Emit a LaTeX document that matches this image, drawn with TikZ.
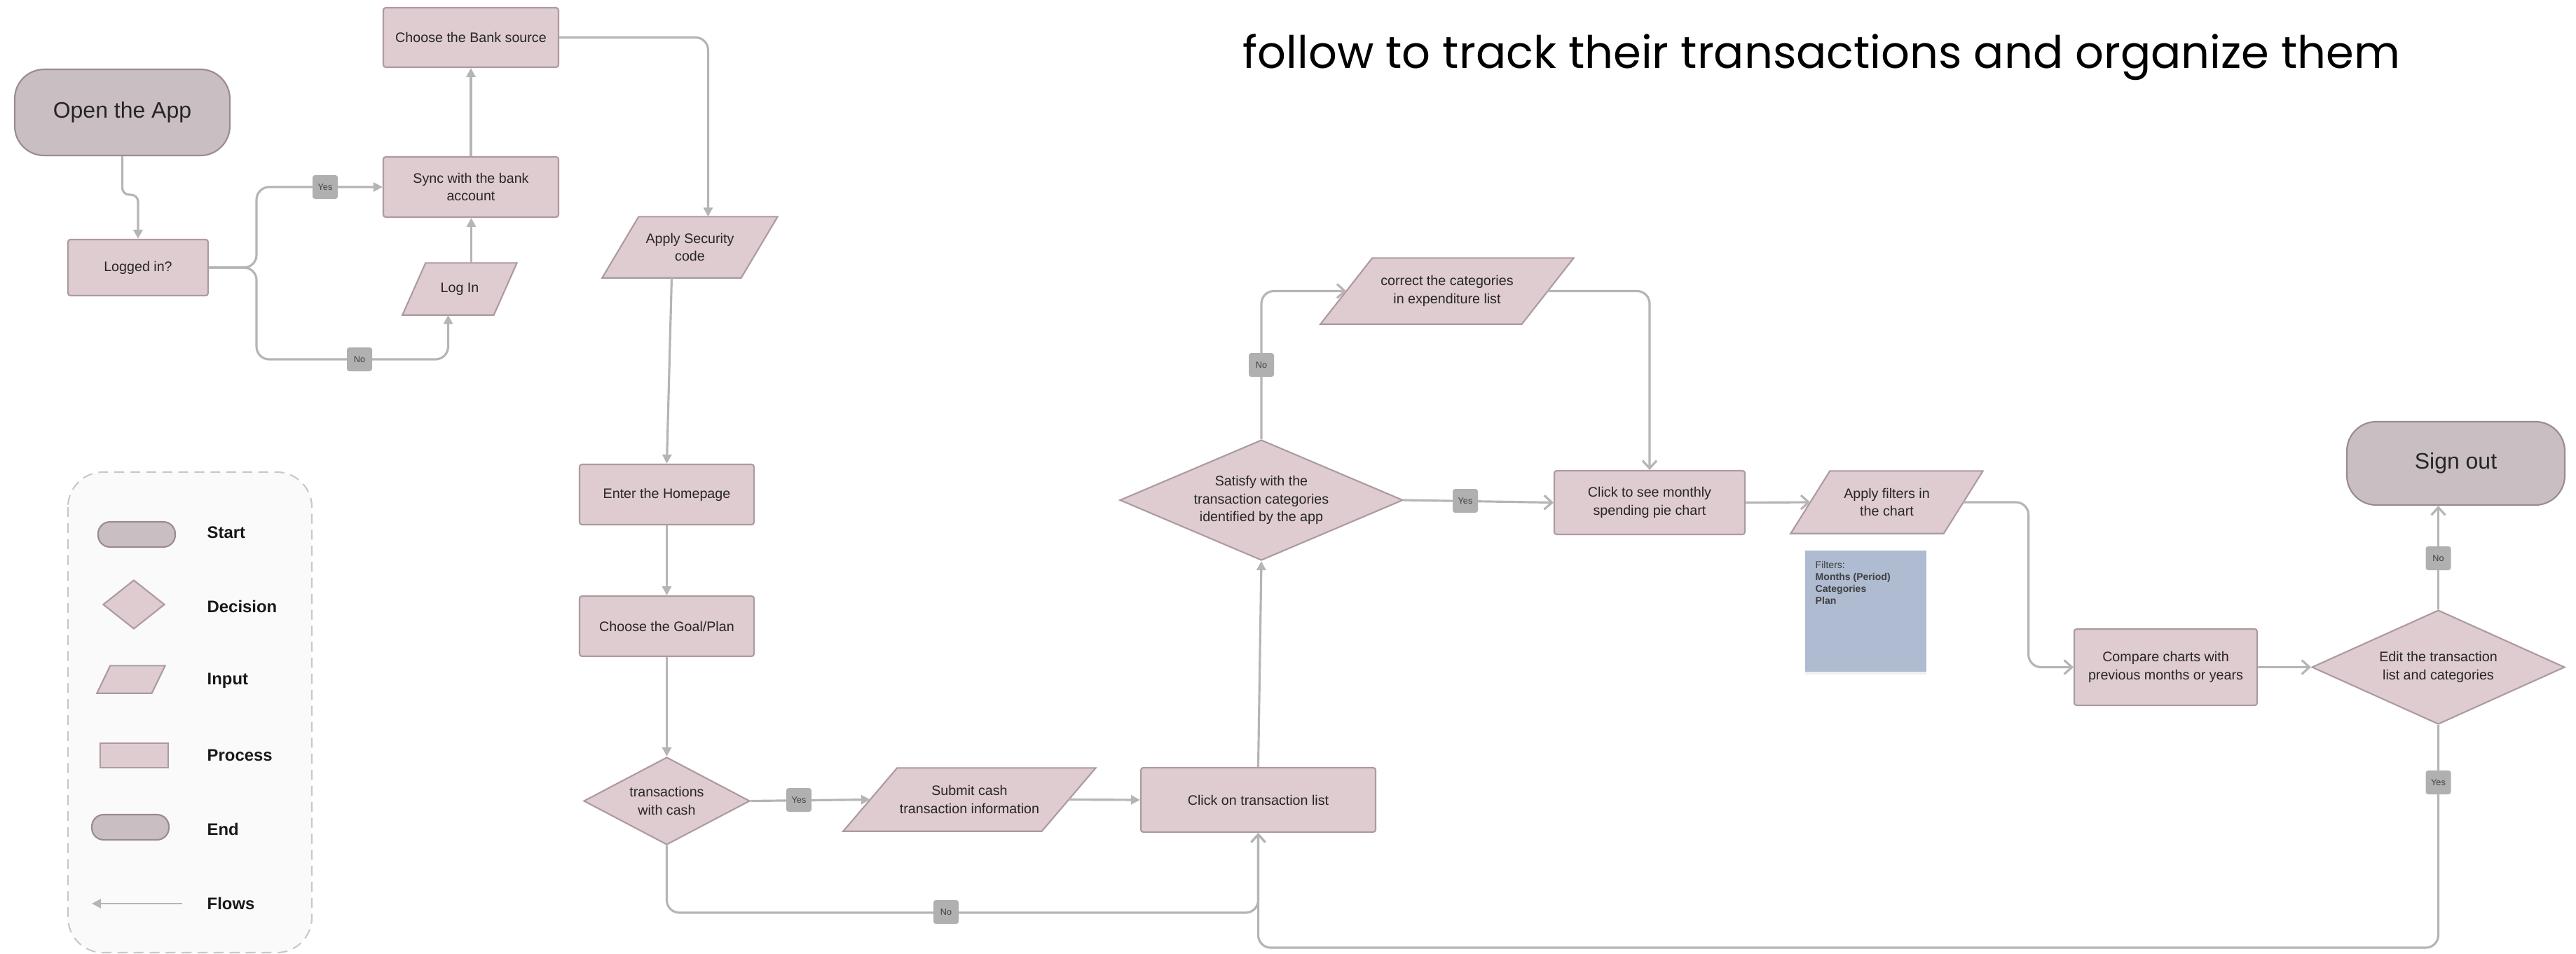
\documentclass[tikz,border=0pt]{standalone}
\usepackage{fontspec}
\setmainfont{Liberation Sans}
\newfontfamily\titlefont{Poppins}
\usetikzlibrary{shapes.geometric,arrows.meta,shadows,backgrounds}

\definecolor{boxfill}{HTML}{DFCCD1}
\definecolor{boxline}{HTML}{AD9AA1}
\definecolor{termfill}{HTML}{C9BEC1}
\definecolor{termline}{HTML}{9A8B90}
\definecolor{flowgray}{HTML}{B5B5B5}
\definecolor{tagfill}{HTML}{B0B0B0}
\definecolor{notefill}{HTML}{AEBBD0}
\definecolor{legendfill}{HTML}{FAFAFA}
\definecolor{legendline}{HTML}{C8C8C8}

\newcommand{\boxfont}{\fontsize{5.6}{7.2}\selectfont}
\newcommand{\termfont}{\fontsize{9.1}{11}\selectfont}
\newcommand{\tagfont}{\fontsize{3.6}{4}\selectfont}
\newcommand{\keyfont}{\fontsize{6.8}{8}\selectfont\bfseries}

% parallelogram behind an input node: name, half of the slant
\newcommand{\slantbox}[2]{%
  \draw[boxline, fill=boxfill, line width=0.6pt] ([xshift=-#2]#1.south west) -- ([xshift=-#2]#1.south east)
    -- ([xshift=#2]#1.north east) -- ([xshift=#2]#1.north west) -- cycle;
  \coordinate (#1 top) at ([xshift=#2]#1.north);
  \coordinate (#1 bottom) at ([xshift=-#2]#1.south);}

\tikzset{
  process/.style={rectangle, draw=boxline, fill=boxfill, line width=0.6pt, rounded corners=1pt,
    align=center, font=\boxfont, text=black!85, inner sep=0pt},
  terminal/.style={process, fill=termfill, draw=termline, rounded corners=0.42cm, font=\termfont},
  inputbox/.style={rectangle, align=center, font=\boxfont, text=black!85, inner sep=0pt},
  decision/.style={diamond, draw=boxline, fill=boxfill, line width=0.6pt,
    align=center, font=\boxfont, text=black!85, inner sep=0pt},
  flow/.style={draw=flowgray, line width=0.9pt, rounded corners=0.18cm, -{Triangle[length=1.3mm,width=1.3mm]}},
  flowopen/.style={flow, -{Straight Barb[length=1.1mm,width=2mm]}},
  answer/.style={fill=tagfill, rounded corners=1pt, minimum width=0.36cm, minimum height=0.34cm,
    inner sep=0pt, font=\tagfont, text=black!75},
  keylabel/.style={anchor=west, font=\keyfont, text=black!90, inner sep=0pt},
}

\begin{document}
\begin{tikzpicture}
\useasboundingbox (0,0) rectangle (36.76,-13.62);

% title
\node[anchor=base west, font=\titlefont\fontsize{18.2}{21}\selectfont, inner sep=0pt] (title) at (17.73,-0.97)
  {follow to track their transactions and organize them};

% legend
\begin{pgfonlayer}{background}
\draw[legendline, fill=legendfill, line width=0.6pt, rounded corners=0.5cm, dash pattern=on 4pt off 2.5pt]
  (0.97,-6.74) rectangle (4.45,-13.60);
\end{pgfonlayer}
\node[terminal, minimum width=1.10cm, minimum height=0.36cm, rounded corners=0.17cm] (keystart) at (1.95,-7.63) {};
\node[decision, aspect=1.26, minimum width=0.88cm, minimum height=0.70cm] (keydecision) at (1.91,-8.63) {};
\node[inputbox, minimum width=0.77cm, minimum height=0.38cm] (keyinput) at (1.87,-9.70) {};
\node[process, minimum width=0.97cm, minimum height=0.35cm, rounded corners=0pt] (keyprocess) at (1.915,-10.785) {};
\node[terminal, minimum width=1.10cm, minimum height=0.36cm, rounded corners=0.17cm] (keyend) at (1.86,-11.81) {};
\coordinate (keyflowa) at (2.60,-12.90);
\coordinate (keyflowb) at (1.31,-12.90);
\draw[flow, line width=0.6pt] (keyflowa) -- (keyflowb);
\node[keylabel] (lstart) at (2.95,-7.60) {Start};
\node[keylabel] (ldecision) at (2.95,-8.66) {Decision};
\node[keylabel] (linput) at (2.95,-9.72) {Input};
\node[keylabel] (lprocess) at (2.95,-10.78) {Process};
\node[keylabel] (lend) at (2.95,-11.84) {End};
\node[keylabel] (lflows) at (2.95,-12.90) {Flows};

% login part
\node[terminal, minimum width=3.07cm, minimum height=1.23cm] (openapp) at (1.745,-1.605) {Open the App};
\node[process, minimum width=2.0cm, minimum height=0.8cm] (logged) at (1.97,-3.82) {Logged in?};
\node[process, minimum width=2.5cm, minimum height=0.85cm] (bank) at (6.72,-0.535) {Choose the Bank source};
\node[process, minimum width=2.5cm, minimum height=0.86cm] (sync) at (6.72,-2.67) {Sync with the bank\\account};
\node[inputbox, minimum width=1.29cm, minimum height=0.73cm] (login) at (6.56,-4.125) {Log In};
\node[inputbox, minimum width=1.97cm, minimum height=0.86cm] (security) at (9.845,-3.53) {Apply Security\\code};

% main column
\node[process, minimum width=2.49cm, minimum height=0.86cm] (home) at (9.515,-7.06) {Enter the Homepage};
\node[process, minimum width=2.49cm, minimum height=0.86cm] (goal) at (9.515,-8.94) {Choose the Goal/Plan};
\node[decision, aspect=1.9, minimum width=2.37cm, minimum height=1.25cm] (cash) at (9.515,-11.435) {transactions\\with cash};
\node[inputbox, minimum width=2.82cm, minimum height=0.89cm] (submit) at (13.835,-11.415) {Submit cash\\transaction information};
\node[process, minimum width=3.35cm, minimum height=0.92cm] (txlist) at (17.955,-11.42) {Click on transaction list};
\node[decision, aspect=2.35, minimum width=4.04cm, minimum height=1.72cm] (satisfy) at (18.0,-7.14) {Satisfy with the\\transaction categories\\identified by the app};
\node[inputbox, minimum width=2.86cm, minimum height=0.93cm] (correct) at (20.65,-4.155) {correct the categories\\in expenditure list};
\node[process, minimum width=2.72cm, minimum height=0.91cm] (pie) at (23.54,-7.175) {Click to see monthly\\spending pie chart};
\node[inputbox, minimum width=2.17cm, minimum height=0.88cm] (filters) at (26.925,-7.17) {Apply filters in\\the chart};
\node[fill=notefill, minimum size=1.73cm, inner sep=0pt,
  drop shadow={opacity=0.12, shadow xshift=0pt, shadow yshift=-1.2pt}] (note) at (26.625,-8.725) {};
\node[anchor=north west, align=left, inner sep=0pt, font=\fontsize{4}{4.8}\selectfont, text=black!75] (notetext) at (25.90,-8.01)
  {Filters:\\\textbf{Months (Period)}\\\textbf{Categories}\\\textbf{Plan}};
\node[process, minimum width=2.61cm, minimum height=1.09cm] (compare) at (30.905,-9.525) {Compare charts with\\previous months or years};
\node[decision, aspect=2.2, minimum width=3.61cm, minimum height=1.63cm] (edit) at (34.795,-9.525) {Edit the transaction\\list and categories};
\node[terminal, minimum width=3.11cm, minimum height=1.19cm] (signout) at (35.045,-6.615) {Sign out};

\begin{pgfonlayer}{background}
\slantbox{keyinput}{0.095cm}
\slantbox{login}{0.165cm}
\slantbox{security}{0.26cm}
\slantbox{submit}{0.385cm}
\slantbox{correct}{0.37cm}
\slantbox{filters}{0.28cm}
\end{pgfonlayer}

% connectors
\draw[flow, rounded corners=0.1cm] (openapp.south) -- ++(0,-0.55) -| (logged.north);
\draw[flow] (logged.east) -- ++(0.68,0) |- (sync.west);
\draw[flow] (logged.east) -- ++(0.68,0) -- ++(0,-1.31) -| (login bottom);
\draw[flow] (login top) -- (login top |- sync.south);
\draw[flow] (sync.north) -- (bank.south);
\draw[flow] (bank.east) -| (security top);
\draw[flow] (security bottom) -- (home.north);
\draw[flow] (home.south) -- (goal.north);
\draw[flow] (goal.south) -- (cash.north);
\draw[flow] (cash.east) -- (submit.west);
\draw[flow] (submit.east) -- (txlist.west);
\draw[flow] (txlist.north) -- (satisfy.south);
\draw[flowopen] (cash.south) -- ++(0,-0.96) -| (txlist.south);
\draw[flowopen] (satisfy.north) |- (correct.west);
\draw[flowopen] (correct.east) -| (pie.north);
\draw[flowopen] (satisfy.east) -- (pie.west);
\draw[flowopen] (pie.east) -- (filters.west);
\draw[flowopen] (filters.east) -- ++(0.93,0) |- (compare.west);
\draw[flowopen] (compare.east) -- (edit.west);
\draw[flowopen] (edit.north) -- (edit.north |- signout.south);
\draw[flowopen] (edit.south) -- ++(0,-3.18) -| (txlist.south);

% answers
\node[answer] (yeslog) at (4.64,-2.67) {Yes};
\node[answer] (nolog) at (5.13,-5.13) {No};
\node[answer] (yescash) at (11.40,-11.42) {Yes};
\node[answer] (nocash) at (13.50,-13.02) {No};
\node[answer] (nosatisfy) at (18.0,-5.21) {No};
\node[answer] (yessatisfy) at (20.91,-7.15) {Yes};
\node[answer] (noedit) at (34.795,-7.97) {No};
\node[answer] (yesedit) at (34.795,-11.17) {Yes};
\end{tikzpicture}
\end{document}
